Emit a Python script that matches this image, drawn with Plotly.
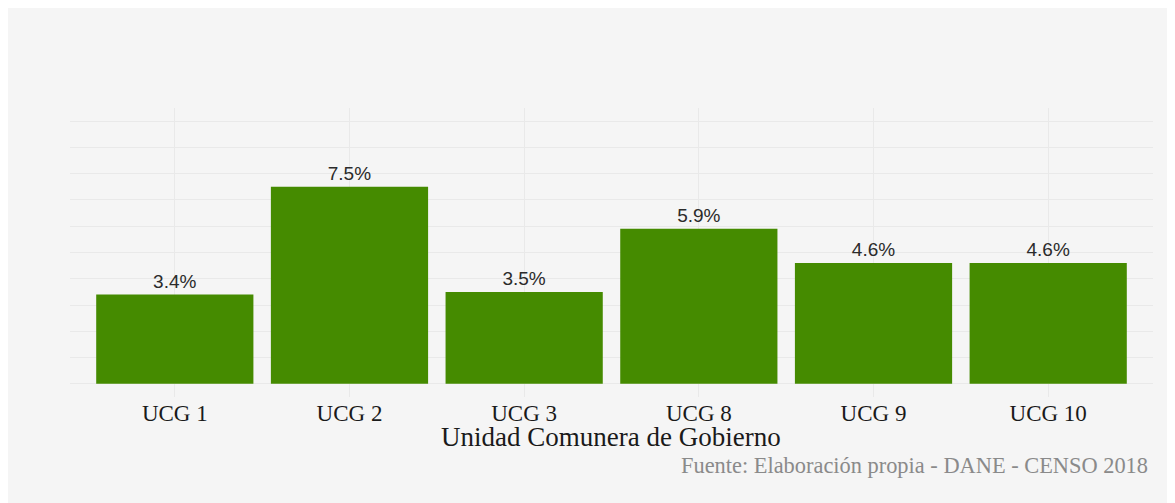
import plotly.graph_objects as go

# datos
ucg = ["UCG 1", "UCG 2", "UCG 3", "UCG 8", "UCG 9", "UCG 10"]
porcentaje = [3.4, 7.5, 3.5, 5.9, 4.6, 4.6]
etiquetas = ["3.4%", "7.5%", "3.5%", "5.9%", "4.6%", "4.6%"]

titulo_x = "Unidad Comunera de Gobierno"
fuente = "Fuente: Elaboración propia - DANE - CENSO 2018"

# la pagina deja 8px de margen blanco arriba y a la izquierda
W, H = 1167, 495
L, R, T, B = 62, 22, 100, 106
pw = W - L - R
ph = H - T - B


def py(px):
    # pixel de la pagina (desde arriba) -> coordenada paper en y
    return (T + ph + 8 - px) / ph


def px_(px):
    return (px - 8 - L) / pw


fig = go.Figure()

fig.add_trace(
    go.Bar(
        x=ucg,
        y=porcentaje,
        width=0.9,
        marker=dict(color="#458B00", line=dict(width=0)),
        text=etiquetas,
        textposition="outside",
        textfont=dict(family="Liberation Sans, Arial", size=19, color="#2b2b2b"),
        cliponaxis=False,
        hoverinfo="x+y",
        showlegend=False,
    )
)

fig.update_layout(
    width=W,
    height=H,
    margin=dict(l=L, r=R, t=T, b=B, pad=0),
    paper_bgcolor="#f5f5f5",
    plot_bgcolor="#f5f5f5",
    bargap=0.1,
    xaxis=dict(
        range=[-0.6, 5.6],
        showgrid=True,
        gridcolor="#e9e9e9",
        gridwidth=1,
        ticks="",
        showline=False,
        zeroline=False,
        tickfont=dict(family="Liberation Serif, Times New Roman", size=23, color="#1a1a1a"),
    ),
    yaxis=dict(
        range=[-0.5, 10.5],
        dtick=1,
        showgrid=True,
        gridcolor="#e9e9e9",
        gridwidth=1,
        showticklabels=False,
        zeroline=False,
        showline=False,
    ),
    annotations=[
        dict(
            text=titulo_x,
            xref="paper", yref="paper",
            x=px_(611), y=py(437),
            xanchor="center", yanchor="middle",
            showarrow=False,
            font=dict(family="Liberation Serif, Times New Roman", size=27, color="#1a1a1a"),
        ),
        dict(
            text=fuente,
            xref="paper", yref="paper",
            x=px_(1150), y=py(465),
            xanchor="right", yanchor="middle",
            showarrow=False,
            font=dict(family="Liberation Serif, Times New Roman", size=22.4, color="#8a8a8a"),
        ),
    ],
)

fig.write_html("out.html")
